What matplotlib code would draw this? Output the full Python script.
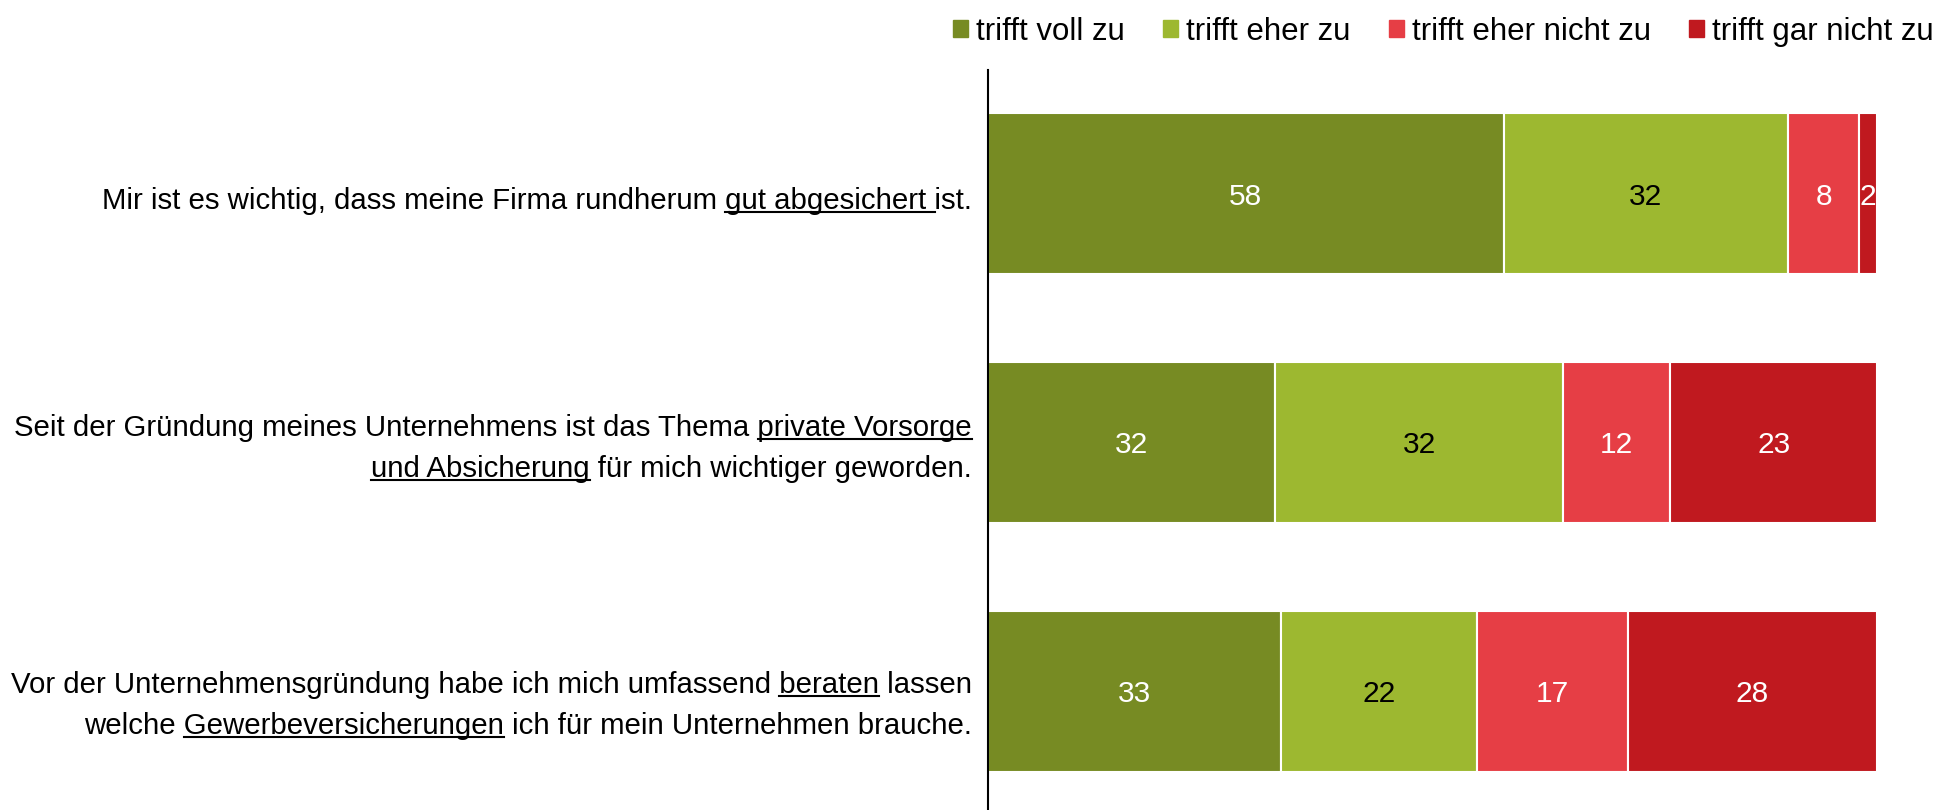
import matplotlib.pyplot as plt
from matplotlib.lines import Line2D
from matplotlib.patches import Patch
import numpy as np

plt.rcParams['font.family'] = ['Liberation Sans', 'DejaVu Sans']

# data
categories = ["trifft voll zu", "trifft eher zu", "trifft eher nicht zu", "trifft gar nicht zu"]
colors = ["#778B23", "#9DB830", "#E63E45", "#C0191F"]
text_colors = ["white", "black", "white", "white"]
voll = [58, 32, 33]
eher = [32, 32, 22]
eher_nicht = [8, 12, 17]
gar_nicht = [2, 23, 28]

# statement lines: (text, underlined) segments per line
statements = [
    [[("Mir ist es wichtig, dass meine Firma rundherum ", False), ("gut abgesichert ", True), ("ist.", False)]],
    [[("Seit der Gründung meines Unternehmens ist das Thema ", False), ("private Vorsorge", True)],
     [("und Absicherung", True), (" für mich wichtiger geworden.", False)]],
    [[("Vor der Unternehmensgründung habe ich mich umfassend ", False), ("beraten", True), (" lassen", False)],
     [("welche ", False), ("Gewerbeversicherungen", True), (" ich für mein Unternehmen brauche.", False)]],
]
baselines = [[209], [436, 477], [693, 734]]  # px from top

W, H = 1946, 810
fig = plt.figure(figsize=(W / 100, H / 100), dpi=100)
ax = fig.add_axes([988 / W, 0, 889 / W, 740 / H])

vals = np.array([voll, eher, eher_nicht, gar_nicht], dtype=float)
shares = vals / vals.sum(axis=0) * 100
y = np.arange(3)
left = np.zeros(3)
for i in range(4):
    ax.barh(y, shares[i], left=left, height=0.647, color=colors[i],
            edgecolor="white", linewidth=1.5, label=categories[i])
    for j in range(3):
        ax.text(left[j] + shares[i][j] / 2, y[j] + 0.012, str(int(vals[i][j])),
                ha="center", va="center", fontsize=21.5, color=text_colors[i])
    left += shares[i]

ax.set_xlim(0, 100)
ax.set_ylim(2.478, -0.4965)
for s in ["top", "right", "bottom"]:
    ax.spines[s].set_visible(False)
ax.spines["left"].set_linewidth(1.5)
ax.set_xticks([])
ax.set_yticks([])

# statements with underlined parts
fs = 21.15
renderer = fig.canvas.get_renderer()


def width(s):
    t = fig.text(0, 0, s + "|", fontsize=fs)
    w = t.get_window_extent(renderer).width
    t.remove()
    t = fig.text(0, 0, "|", fontsize=fs)
    w -= t.get_window_extent(renderer).width
    t.remove()
    return w


x_right = 972
for lines, bls in zip(statements, baselines):
    for segs, bl in zip(lines, bls):
        full = "".join(s for s, _ in segs)
        fig.text(x_right / W, 1 - bl / H, full, ha="right", va="baseline", fontsize=fs)
        x0 = x_right - width(full)
        pre = ""
        for s, u in segs:
            if u:
                a = x0 + width(pre)
                b = x0 + width(pre + s)
                fig.add_artist(Line2D([a / W, b / W], [1 - (bl + 3) / H] * 2,
                                      color="black", linewidth=1.5))
            pre += s

handles = [Patch(color=c) for c in colors]
fig.legend(handles, categories, loc="upper right", bbox_to_anchor=(1.0, 0.995),
           ncol=4, frameon=False, fontsize=22.5, handlelength=0.48, handleheight=0.48,
           handletextpad=0.26, columnspacing=1.22, borderaxespad=0.1, borderpad=0.3)

fig.savefig("out.png", dpi=100)
